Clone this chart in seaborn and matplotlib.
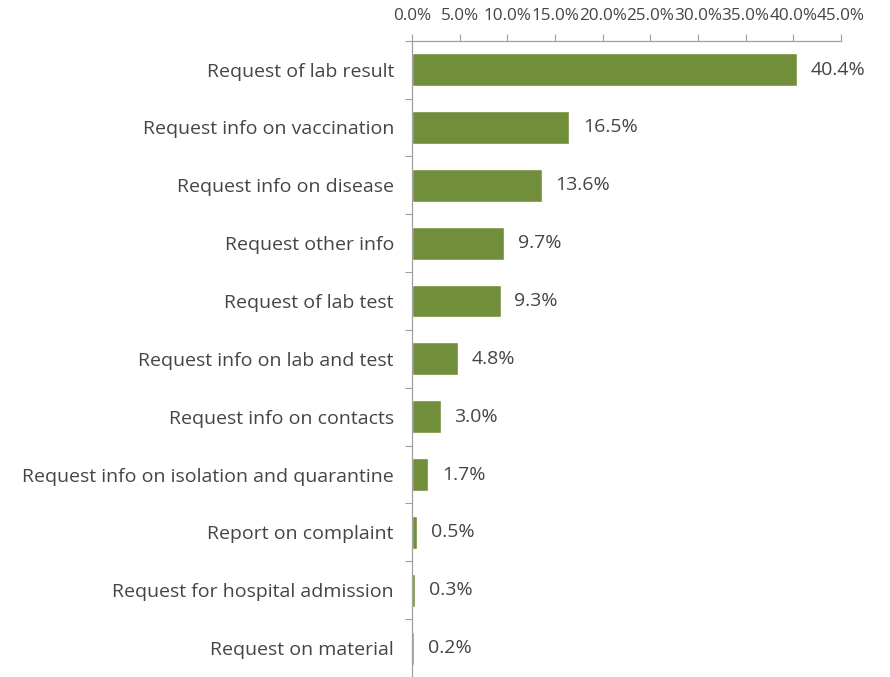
import matplotlib
matplotlib.use("Agg")
import matplotlib.pyplot as plt
import seaborn as sns
import pandas as pd
from matplotlib.ticker import FuncFormatter, FixedLocator

categories = [
    "Request of lab result",
    "Request info on vaccination",
    "Request info on disease",
    "Request other info",
    "Request of lab test",
    "Request info on lab and test",
    "Request info on contacts",
    "Request info on isolation and quarantine",
    "Report on complaint",
    "Request for hospital admission",
    "Request on material",
]
values = [40.4, 16.5, 13.6, 9.7, 9.3, 4.8, 3.0, 1.7, 0.5, 0.3, 0.2]
xticks = [0, 5, 10, 15, 20, 25, 30, 35, 40, 45]

sns.set_theme(style="white")
plt.rcParams["font.family"] = ["Open Sans", "DejaVu Sans"]

df = pd.DataFrame({"cat": categories, "val": values})

fig = plt.figure(figsize=(8.9, 6.77), dpi=100)
ax = fig.add_axes([412 / 890, 0.0, (841 - 412) / 890, 1 - 40.7 / 677])

sns.barplot(data=df, y="cat", x="val", color="#718f3a", saturation=1,
            width=0.57, ax=ax, orient="h")

ax.set_xlim(0, 45)
ax.set_ylim(len(categories) - 0.5, -0.5)
ax.xaxis.set_major_locator(FixedLocator(xticks))
ax.xaxis.set_major_formatter(FuncFormatter(lambda v, p: f"{v:.1f}%"))
ax.xaxis.tick_top()
ax.set_xlabel("")
ax.set_ylabel("")

txt_color = "#454545"
fs = 14
for lab in ax.get_xticklabels():
    lab.set_fontsize(12.3)
    lab.set_color(txt_color)
for lab in ax.get_yticklabels():
    lab.set_fontsize(fs)
    lab.set_color(txt_color)

ax.tick_params(axis="x", which="major", direction="out", length=5, width=0.8,
               color="#a0a0a0", pad=7, top=True, bottom=False)
ax.tick_params(axis="y", which="major", length=0, pad=13)
ax.yaxis.set_minor_locator(FixedLocator([i + 0.5 for i in range(-1, len(categories))]))
ax.tick_params(axis="y", which="minor", direction="out", length=5, width=0.8,
               color="#a0a0a0", left=True)

for s in ["right", "bottom"]:
    ax.spines[s].set_visible(False)
for s in ["left", "top"]:
    ax.spines[s].set_color("#a0a0a0")
    ax.spines[s].set_linewidth(0.9)

for i, v in enumerate(values):
    ax.text(v + 1.45, i, f"{v:.1f}%", va="center", ha="left",
            fontsize=fs, color=txt_color)

fig.savefig("out.png", dpi=100)
